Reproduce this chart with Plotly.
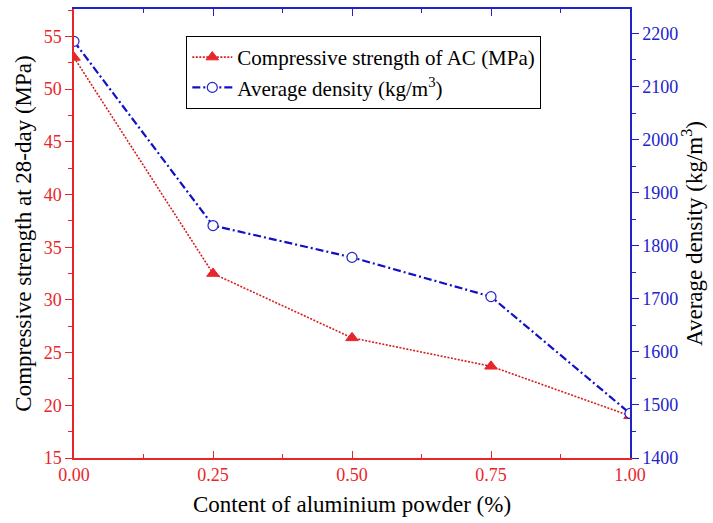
import plotly.graph_objects as go

content = [0.00, 0.25, 0.50, 0.75, 1.00]
strength = [53.0, 32.5, 26.4, 23.7, 19.0]
density = [2185, 1838, 1778, 1704, 1484]
x_ticks = [0.00, 0.25, 0.50, 0.75, 1.00]
x_tick_labels = ["0.00", "0.25", "0.50", "0.75", "1.00"]

RED = "#e8262a"
BLUE = "#2222cc"
FONT = "Liberation Serif"

fig = go.Figure()
fig.add_trace(go.Scatter(
    x=content, y=strength, name="Compressive strength of AC (MPa)",
    mode="lines+markers",
    line=dict(color="#d42020", width=1.6, dash="2px,1.5px"),
    marker=dict(symbol="triangle-up", size=11, color=RED, line=dict(color=RED, width=1)),
    xaxis="x", yaxis="y",
))
fig.add_trace(go.Scatter(
    x=content, y=density, name="Average density (kg/m<sup>3</sup>)",
    mode="lines+markers",
    line=dict(color="#1010c8", width=2.2, dash="8px,3px,2px,3px"),
    marker=dict(symbol="circle", size=10, color="white", line=dict(color=BLUE, width=1.2)),
    xaxis="x", yaxis="y2",
))
fig.add_trace(go.Scatter(x=[content[0]], y=[strength[0]], mode="markers",
                         marker=dict(opacity=0), showlegend=False, hoverinfo="skip",
                         xaxis="x2", yaxis="y"))

fig.update_layout(
    width=713, height=523,
    margin=dict(l=74, r=83, t=9, b=65),
    paper_bgcolor="white", plot_bgcolor="white",
    font=dict(family=FONT, size=18, color="black"),
    showlegend=True,
    legend=dict(x=0.202, y=0.94, xanchor="left", yanchor="top",
                bgcolor="white", bordercolor="black", borderwidth=1,
                font=dict(family=FONT, size=21, color="black"),
                tracegroupgap=0, itemwidth=40),
    xaxis=dict(
        range=[0, 1], tickvals=x_ticks, ticktext=x_tick_labels,
        ticks="inside", ticklen=7, tickcolor=RED, tickwidth=1,
        minor=dict(dtick=0.125, ticks="inside", ticklen=4, tickcolor=RED),
        showline=True, linecolor=RED, linewidth=1.5,
        showgrid=False, zeroline=False,
        tickfont=dict(family=FONT, size=18, color=RED),
        title=dict(text="Content of aluminium powder (%)", font=dict(family=FONT, size=23, color="black"), standoff=12),
    ),
    xaxis2=dict(
        range=[0, 1], overlaying="x", side="top", tickvals=x_ticks,
        showticklabels=False,
        ticks="inside", ticklen=7, tickcolor=BLUE, tickwidth=1,
        minor=dict(dtick=0.125, ticks="inside", ticklen=4, tickcolor=BLUE),
        showline=True, linecolor=BLUE, linewidth=1.5,
        showgrid=False, zeroline=False,
    ),
    yaxis=dict(
        range=[15, 57.6], tickvals=[15, 20, 25, 30, 35, 40, 45, 50, 55],
        ticks="outside", ticklen=7, tickcolor=RED,
        minor=dict(dtick=2.5, ticks="outside", ticklen=4, tickcolor=RED),
        showline=True, linecolor=RED, linewidth=1.5,
        showgrid=False, zeroline=False,
        tickfont=dict(family=FONT, size=18, color=RED),
        title=dict(text="Compressive strength at 28-day (MPa)", font=dict(family=FONT, size=23, color="black"), standoff=6),
    ),
    yaxis2=dict(
        range=[1400, 2246], overlaying="y", side="right",
        tickvals=[1400, 1500, 1600, 1700, 1800, 1900, 2000, 2100, 2200],
        ticks="outside", ticklen=7, tickcolor=BLUE,
        minor=dict(dtick=50, ticks="outside", ticklen=4, tickcolor=BLUE),
        showline=True, linecolor=BLUE, linewidth=1.5,
        showgrid=False, zeroline=False,
        tickfont=dict(family=FONT, size=18, color=BLUE),
        title=dict(text="Average density (kg/m<sup>3</sup>)", font=dict(family=FONT, size=23, color="black"), standoff=6),
    ),
)

fig.write_html("out.html")
